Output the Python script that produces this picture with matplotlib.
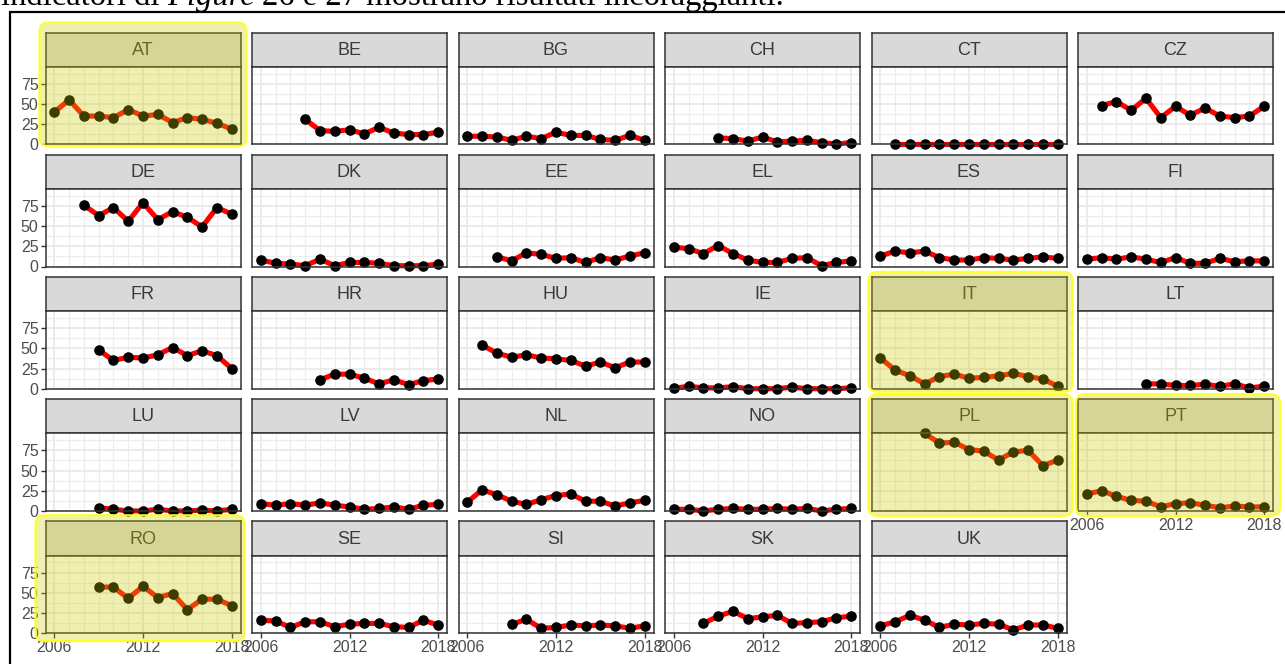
import numpy as np
import matplotlib.pyplot as plt
from matplotlib.patches import FancyBboxPatch

# values per country, first year of each series
countries = ['AT', 'BE', 'BG', 'CH', 'CT', 'CZ',
             'DE', 'DK', 'EE', 'EL', 'ES', 'FI',
             'FR', 'HR', 'HU', 'IE', 'IT', 'LT',
             'LU', 'LV', 'NL', 'NO', 'PL', 'PT',
             'RO', 'SE', 'SI', 'SK', 'UK']
first_year = [2006, 2009, 2006, 2009, 2007, 2007,
              2008, 2006, 2008, 2006, 2006, 2006,
              2009, 2010, 2007, 2006, 2006, 2010,
              2009, 2006, 2006, 2006, 2009, 2006,
              2009, 2006, 2009, 2008, 2006]

at = [40, 55, 35, 35, 33, 43, 35, 37, 27, 33, 31, 26, 19]
be = [31, 17, 16, 18, 13, 21, 14, 12, 12, 15]
bg = [10, 10, 9, 5, 10, 7, 15, 11, 11, 6, 5, 11, 5]
ch = [8, 7, 4, 9, 3, 4, 5, 2, 0.5, 2]
ct = [0, 0, 0, 0, 0, 0, 0, 0, 0, 0, 0, 0]
cz = [48, 53, 42, 57, 33, 47, 36, 45, 35, 33, 35, 47]
de = [76, 63, 73, 56, 79, 58, 68, 61, 49, 73, 65]
dk = [8, 4, 3, 1, 9, 1, 5, 5, 4, 1, 1, 1, 3]
ee = [12, 7, 17, 15, 10, 11, 5, 11, 8, 13, 17]
el = [24, 22, 16, 26, 16, 8, 5, 5, 10, 11, 1, 5, 7]
es = [13, 19, 17, 19, 11, 8, 8, 11, 10, 8, 10, 12, 10]
fi = [9, 11, 9, 12, 9, 5, 11, 4, 4, 10, 6, 7, 7]
fr = [48, 35, 39, 38, 42, 51, 41, 47, 41, 25]
hr = [11, 18, 18, 13, 6, 11, 5, 10, 12]
hu = [54, 44, 39, 42, 38, 37, 35, 28, 33, 26, 33, 33]
ie = [0.5, 3, 1, 1, 2.5, 0, 0, 0, 2, 0, 0, 0, 1]
it = [38, 23, 16, 6, 15, 18, 13, 14, 16, 19, 15, 12, 3]
lt = [6, 6, 4, 4, 5.5, 3, 6, 1, 3]
lu = [4, 2, 0, 0, 2, 0, 0, 1, 0, 2]
lv = [9, 7, 9, 7, 10, 7, 5, 2, 3, 5, 2, 7, 8]
nl = [11, 26, 20, 12, 8, 14, 19, 21, 12, 12, 6, 10, 13]
no = [2, 2, 0, 2, 3, 2, 2, 3, 2, 3, 0, 2, 3]
pl = [96, 84, 85, 76, 74, 63, 73, 75, 56, 63]
pt = [21, 25, 18, 13, 12, 5, 9, 10, 7, 4, 6, 5, 5]
ro = [57, 57, 43, 58, 44, 49, 29, 42, 42, 34]
se = [16, 15, 7, 14, 14, 8, 11, 12, 12, 8, 7, 16, 10]
si = [11, 17, 6, 7, 10, 9, 10, 9, 6, 9]
sk = [12, 21, 27, 18, 20, 22, 12, 13, 14, 19, 21]
uk = [9, 14, 22, 16, 7, 11, 10, 12, 11, 4, 10, 10, 6]

series = [at, be, bg, ch, ct, cz, de, dk, ee, el, es, fi, fr, hr, hu,
          ie, it, lt, lu, lv, nl, no, pl, pt, ro, se, si, sk, uk]

highlighted = ['AT', 'IT', 'PL', 'PT', 'RO']
year_ticks = [2006, 2012, 2018]
y_ticks = [0, 25, 50, 75]

W, H = 1285, 664
plt.rcParams['font.family'] = ['Liberation Sans', 'DejaVu Sans']

fig = plt.figure(figsize=(W / 100, H / 100), dpi=100)


def rect(x0, y0, w, h):
    # pixel box (top-left origin) -> figure fraction
    return [x0 / W, 1 - (y0 + h) / H, w / W, h / H]


ncol = 6
n = len(countries)
pan_w, strip_h, pan_h = 195, 34.3, 77.5
boxes = {}

for i, c in enumerate(countries):
    r, col = divmod(i, ncol)
    x0 = 45.5 + 206.5 * col
    top = 32.5 + 122.2 * r
    boxes[c] = (x0, top, pan_w, strip_h + pan_h)

    strip = fig.add_axes(rect(x0, top, pan_w, strip_h))
    strip.set_facecolor('#D9D9D9')
    strip.set_xticks([])
    strip.set_yticks([])
    for s in strip.spines.values():
        s.set_color('#333333')
        s.set_linewidth(1.1)
    strip.text(0.5, 0.48, c, ha='center', va='center', fontsize=13,
               color='#3A3A3A', transform=strip.transAxes)

    ax = fig.add_axes(rect(x0, top + strip_h, pan_w, pan_h))
    yrs = np.arange(first_year[i], first_year[i] + len(series[i]))
    ax.plot(yrs, series[i], color='red', lw=3.7, zorder=3, clip_on=False,
            solid_joinstyle='round', solid_capstyle='round')
    ax.plot(yrs, series[i], 'o', color='black', ms=6.6, zorder=4, clip_on=False)
    ax.set_xlim(2005.4, 2018.6)
    ax.set_ylim(0, 96)
    ax.set_xticks(year_ticks)
    ax.set_xticks(np.arange(2006, 2019), minor=True)
    ax.set_yticks(y_ticks)
    ax.set_yticks([12.5, 37.5, 62.5, 87.5], minor=True)
    ax.grid(which='major', color='#E8E8E8', lw=1.2)
    ax.grid(which='minor', color='#EDEDED', lw=0.9)
    ax.set_axisbelow(True)
    for s in ax.spines.values():
        s.set_color('#333333')
        s.set_linewidth(1.1)
        s.set_zorder(5)
    ax.tick_params(which='minor', length=0)
    ax.tick_params(which='major', length=3.5, width=1, color='#333333',
                   labelsize=11.5, labelcolor='#4D4D4D', pad=1.5)
    bottom_row = i + ncol >= n
    if not bottom_row:
        ax.tick_params(bottom=False, labelbottom=False)
    if col != 0:
        ax.tick_params(left=False, labelleft=False)

# overlay in pixel coordinates: highlights, frame and the cut-off text line
ov = fig.add_axes([0, 0, 1, 1], zorder=20)
ov.set_xlim(0, W)
ov.set_ylim(H, 0)
ov.axis('off')

pads = {'AT': (6, 10, 6, 2), 'IT': (3, 5, 6, 3), 'PL': (3, 5, 6, 5),
        'PT': (2, 5, 7, 5), 'RO': (10, 6, 4, 8)}
for c in highlighted:
    x0, y0, w, h = boxes[c]
    pl_, pt_, pr_, pb_ = pads[c]
    bx0, by0 = x0 - pl_, y0 - pt_
    bw, bh = w + pl_ + pr_, h + pt_ + pb_
    rad = 9
    ov.add_patch(FancyBboxPatch((bx0 + rad, by0 + rad), bw - 2 * rad, bh - 2 * rad,
                                boxstyle=f'round,pad={rad},rounding_size={rad}',
                                facecolor=(0.8, 0.8, 0.0, 0.3),
                                edgecolor=(1.0, 1.0, 0.15, 0.95), lw=1.6))

ov.plot([9, W], [11.5, 11.5], color='black', lw=1.6, solid_capstyle='butt')
ov.plot([10, 10], [11.5, H], color='black', lw=1.6, solid_capstyle='butt')

fig.canvas.draw()
tx = 1
sp = 7.5
for part, style in [('indicatori di', 'normal'), ('Figure', 'italic'),
                    ('26 e 27 mostrano risultati incoraggianti.', 'normal')]:
    t = ov.text(tx, 5, part, family='Liberation Serif', fontsize=23.5,
                style=style, va='baseline', ha='left', color='black')
    bb = t.get_window_extent(renderer=fig.canvas.get_renderer())
    tx += bb.width + sp

fig.savefig('out.png', dpi=100)
